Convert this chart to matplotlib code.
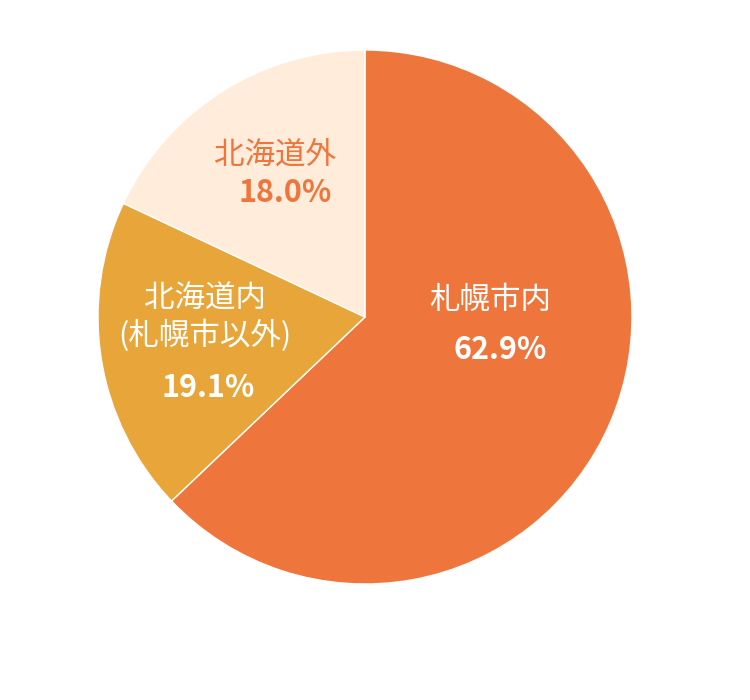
import matplotlib
matplotlib.use("Agg")
import matplotlib.pyplot as plt

plt.rcParams['font.family'] = ['Noto Sans CJK JP', 'DejaVu Sans']

labels = ["札幌市内", "北海道内\n(札幌市以外)", "北海道外"]
values = [62.9, 19.1, 18.0]
colors = ["#EE763C", "#E8A53A", "#FFECDA"]
text_colors = ["white", "white", "#EE763C"]
W, H = 750, 700

fig = plt.figure(figsize=(7.5, 7), dpi=100)
ax = fig.add_axes([(365 - 267) / W, (383 - 267) / H, 534 / W, 534 / H])
ax.pie(values, colors=colors, startangle=90, counterclock=False, radius=1,
       wedgeprops=dict(edgecolor="white", linewidth=1))
ax.set_xlim(-1, 1)
ax.set_ylim(-1, 1)
ax.set_aspect("auto")
ax.axis("off")

def px(x, y):
    return x / W, 1 - y / H

# label name and percent positions (pixel coords in reference)
name_pos = [(490, 300), (205, 318), (275, 155)]
pct_pos = [(500, 350), (208, 388), (285, 193)]
for i in range(3):
    ax.text(*px(*name_pos[i]), labels[i], color=text_colors[i], fontsize=22,
            ha="center", va="center", linespacing=1.2,
            transform=fig.transFigure, zorder=10)
    ax.text(*px(*pct_pos[i]), f"{values[i]:.1f}%", color=text_colors[i],
            fontsize=22, fontweight="bold", ha="center", va="center",
            transform=fig.transFigure, zorder=10)

fig.savefig("out.png", dpi=100, facecolor="white")
